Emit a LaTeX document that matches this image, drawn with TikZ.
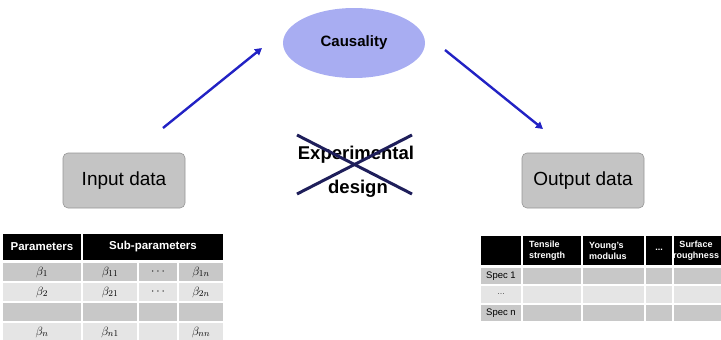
\documentclass[tikz,border=0pt]{standalone}
\usepackage{fontspec}
\setmainfont{Liberation Sans}
\usetikzlibrary{arrows.meta,shapes.geometric}
\definecolor{lav}{RGB}{168,173,242}
\definecolor{arrowblue}{RGB}{34,34,196}
\definecolor{crossnavy}{RGB}{30,30,90}
\definecolor{boxgray}{RGB}{196,196,196}
\definecolor{boxedge}{RGB}{150,150,150}
\definecolor{rowdark}{RGB}{200,200,200}
\definecolor{rowlight}{RGB}{229,229,229}
\newcommand{\fs}[1]{\fontsize{#1}{#1}\selectfont}
\begin{document}
\begin{tikzpicture}[x=1pt,y=-1pt,
  flow/.style={draw=arrowblue,line width=2.4pt,-{Triangle[length=7pt,width=7.5pt]}},
  strike/.style={draw=crossnavy,line width=3pt},
  databox/.style={draw=boxedge,fill=boxgray,rounded corners=5pt,line width=0.6pt,
    minimum width=122pt,minimum height=55pt,inner sep=0pt,font=\fs{19}},
  cellH/.style={fill=black,draw=white,line width=1.5pt},
  cellD/.style={fill=rowdark,draw=white,line width=1.5pt},
  cellL/.style={fill=rowlight,draw=white,line width=1.5pt},
  headtxt/.style={text=white,font=\bfseries\fs{11.5},inner sep=0pt},
  headsm/.style={text=white,font=\bfseries\fontsize{9}{11}\selectfont,inner sep=0pt},
  mtxt/.style={font=\fs{12.5},inner sep=0pt},
  spectxt/.style={font=\fs{9.5},inner sep=0pt,anchor=west}]
\useasboundingbox (0,0) rectangle (721,340);
\clip (0,0) rectangle (721,340);

% central ellipse
\node[ellipse,fill=lav,minimum width=142pt,minimum height=70pt,inner sep=0pt,
  font=\bfseries\fs{15}] (caus) at (354,43) {Causality};

% data boxes
\node[databox] (in) at (124,180.5) {Input data};
\node[databox] (out) at (583,180.5) {Output data};

% arrows to and from the ellipse
\coordinate (a1s) at (163,128);
\coordinate (a1e) at (262,48);
\coordinate (a2s) at (445,50);
\coordinate (a2e) at (543,129);
\draw[flow] (a1s) -- (a1e);
\draw[flow] (a2s) -- (a2e);

% crossed-out experimental design
\node[font=\bfseries\fs{18.5},inner sep=0pt,anchor=base] (expA) at (356,159) {Experimental};
\node[font=\bfseries\fs{18.5},inner sep=0pt,anchor=base] (expB) at (358,193) {design};
\draw[strike] (297,135) -- (412,194);
\draw[strike] (297,194) -- (412,135);

% input parameter table
\path[cellH] (2,233) rectangle (82,261);
\path[cellH] (82,233) rectangle (224,261);
\foreach \xa/\xb in {2/82,82/138,138/178,178/224}{
  \path[cellD] (\xa,262) rectangle (\xb,282);
  \path[cellL] (\xa,282) rectangle (\xb,302);
  \path[cellD] (\xa,302) rectangle (\xb,322);
  \path[cellL] (\xa,322) rectangle (\xb,345);
}
\node[headtxt] (hp) at (42,247) {Parameters};
\node[headtxt] (hs) at (153,247) {Sub-parameters};
\node[mtxt] (b1) at (42,272) {$\beta_{1}$};
\node[mtxt] (b11) at (110,272) {$\beta_{11}$};
\node[mtxt] (d1) at (158,272) {$\cdots$};
\node[mtxt] (b1n) at (201,272) {$\beta_{1n}$};
\node[mtxt] (b2) at (42,292) {$\beta_{2}$};
\node[mtxt] (b21) at (110,292) {$\beta_{21}$};
\node[mtxt] (d2) at (158,292) {$\cdots$};
\node[mtxt] (b2n) at (201,292) {$\beta_{2n}$};
\node[mtxt] (bn) at (42,332) {$\beta_{n}$};
\node[mtxt] (bn1) at (110,332) {$\beta_{n1}$};
\node[mtxt] (bnn) at (201,332) {$\beta_{nn}$};

% output specification table
\foreach \xa/\xb in {480/522,522/582,582/645,645/673,673/745}{
  \path[cellH] (\xa,235) rectangle (\xb,266);
  \path[cellD] (\xa,267) rectangle (\xb,285);
  \path[cellL] (\xa,285) rectangle (\xb,304);
  \path[cellD] (\xa,304) rectangle (\xb,322);
}
\node[headsm,align=left,anchor=west] (ts) at (529,250.5) {Tensile\\strength};
\node[headsm,align=left,anchor=west] (ym) at (589,250.5) {Young's\\modulus};
\node[headsm] (hd) at (659,250) {...};
\node[headsm,align=center] (sr) at (696,250.5) {Surface\\roughness};
\node[spectxt] (s1) at (486,276) {Spec 1};
\node[font=\fs{9},inner sep=0pt,text=black!65] (sd) at (501,294) {...};
\node[spectxt] (sn) at (486,313) {Spec n};
\end{tikzpicture}
\end{document}
